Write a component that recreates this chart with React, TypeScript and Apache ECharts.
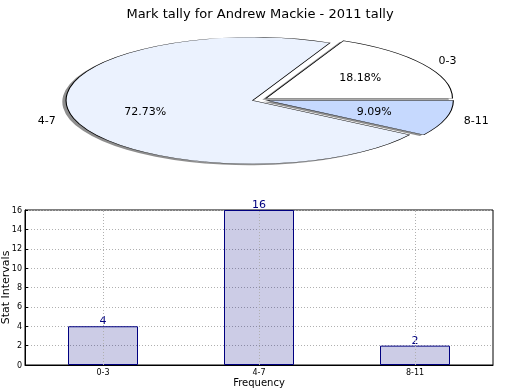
import React, { useEffect, useRef } from "react";
import * as echarts from "echarts";

const categories = ["0-3", "4-7", "8-11"];
const counts = [4, 16, 2];
const explode = [0.04, 0.04, 0.04];
const pieColors = ["#ffffff", "#ebf2fe", "#c6d9fe"];
const titleText = "Mark tally for Andrew Mackie - 2011 tally";

const FONT = "DejaVu Sans";
const PIE = { cx: 259.7, cy: 99.8, rx: 186.5, ry: 63.5 };

export default function App() {
  const ref = useRef<HTMLDivElement>(null);
  useEffect(() => {
    if (!ref.current) return;
    const chart = echarts.init(ref.current, null, { renderer: "svg" });
    const total = counts.reduce((a, b) => a + b, 0);

    const renderItem = (params: any) => {
      const idx = params.dataIndex;
      let before = 0;
      for (let i = 0; i < idx; i++) before += counts[i];
      const start = (before / total) * Math.PI * 2;
      const end = ((before + counts[idx]) / total) * Math.PI * 2;
      const mid = (start + end) / 2;
      const ex = explode[idx];
      const cx = PIE.cx + ex * PIE.rx * Math.cos(mid);
      const cy = PIE.cy - ex * PIE.ry * Math.sin(mid);
      const sy = PIE.ry / PIE.rx;
      const shape = { cx: 0, cy: 0, r: PIE.rx, r0: 0, startAngle: -end, endAngle: -start, clockwise: true };
      const lx = cx + 1.1 * PIE.rx * Math.cos(mid);
      const ly = cy - 1.1 * PIE.ry * Math.sin(mid);
      const px = cx + 0.6 * PIE.rx * Math.cos(mid);
      const py = cy - 0.6 * PIE.ry * Math.sin(mid);
      return {
        type: "group",
        children: [
          {
            type: "group",
            x: cx - 0.02 * PIE.rx,
            y: cy + 0.02 * PIE.ry,
            scaleY: sy,
            children: [
              {
                type: "sector",
                shape,
                z2: 0,
                style: { fill: "rgba(50,50,50,0.55)", stroke: "none" },
              },
            ],
          },
          {
            type: "group",
            x: cx,
            y: cy,
            scaleY: sy,
            children: [
              {
                type: "sector",
                shape,
                z2: 10,
                style: { fill: pieColors[idx], stroke: "#000", lineWidth: 1.1, strokeNoScale: true },
              },
            ],
          },
          {
            type: "text",
            x: lx,
            y: ly,
            z2: 20,
            style: {
              text: categories[idx],
              fill: "#000",
              font: `11px "${FONT}"`,
              align: Math.cos(mid) > 0 ? "left" : "right",
              verticalAlign: "middle",
            },
          },
          {
            type: "text",
            x: px,
            y: py,
            z2: 20,
            style: {
              text: ((counts[idx] / total) * 100).toFixed(2) + "%",
              fill: "#000",
              font: `11px "${FONT}"`,
              align: "center",
              verticalAlign: "middle",
            },
          },
        ],
      };
    };

    chart.setOption({
      animation: false,
      textStyle: { fontFamily: FONT },
      title: {
        text: titleText,
        left: "center",
        top: 2,
        textStyle: { fontSize: 13, fontWeight: "normal", color: "#000", fontFamily: FONT },
      },
      grid: {
        left: 25,
        right: 27,
        top: 210,
        bottom: 25,
        show: true,
        borderColor: "#000",
        borderWidth: 1,
        containLabel: false,
        outerBoundsMode: "none",
      },
      xAxis: {
        type: "category",
        data: categories,
        name: "Frequency",
        nameLocation: "middle",
        nameGap: 12,
        nameMoveOverlap: false,
        nameTextStyle: { fontSize: 10, color: "#000", fontFamily: FONT },
        axisLine: { lineStyle: { color: "#000" } },
        axisTick: { alignWithLabel: true, inside: true, length: 3, lineStyle: { color: "#000" } },
        axisLabel: { fontSize: 8, color: "#000", margin: 3, fontFamily: FONT },
        splitLine: { show: false },
      },
      yAxis: {
        type: "value",
        min: 0,
        max: 16,
        interval: 2,
        name: "Stat Intervals",
        nameLocation: "middle",
        nameRotate: 90,
        nameGap: 14,
        nameMoveOverlap: false,
        nameTextStyle: { fontSize: 11, color: "#000", fontFamily: FONT },
        axisLine: { show: true, lineStyle: { color: "#000" } },
        axisTick: { show: true, inside: true, length: 3, lineStyle: { color: "#000" } },
        axisLabel: { fontSize: 8, color: "#000", margin: 3, fontFamily: FONT },
        splitLine: { show: true, lineStyle: { color: "#b0b0b0", type: [1, 2], width: 1 } },
      },
      series: [
        {
          type: "custom",
          coordinateSystem: "none",
          renderItem,
          data: counts.map((v) => [v]),
          silent: true,
        },
        {
          type: "bar",
          data: counts,
          barWidth: 70,
          itemStyle: { color: "rgba(0,0,128,0.2)", borderColor: "#000080", borderWidth: 1 },
          label: {
            show: true,
            position: "top",
            distance: 0,
            color: "#000080",
            fontSize: 11,
            fontFamily: FONT,
          },
          emphasis: { disabled: true },
          markLine: {
            silent: true,
            symbol: ["none", "none"],
            label: { show: false },
            lineStyle: { color: "#b0b0b0", type: [1, 2], width: 1 },
            data: categories.map((c) => ({ xAxis: c })),
          },
        },
      ],
    });
    return () => chart.dispose();
  }, []);
  return (
    <div
      ref={ref}
      style={{ position: "fixed", left: 0, top: 0, width: 520, height: 390 }}
    />
  );
}
